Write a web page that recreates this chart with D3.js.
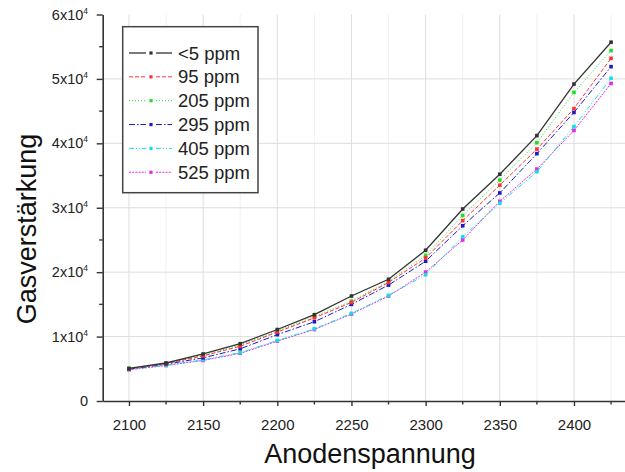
<!DOCTYPE html>
<html>
<head>
<meta charset="utf-8">
<script src="https://cdn.jsdelivr.net/npm/d3@7"></script>
<style>
  body { margin: 0; background: #fff; }
  svg { font-family: "Liberation Sans", Arial, sans-serif; }
</style>
</head>
<body>
<div id="chart"></div>
<script>
// Anodenspannung (V)
const spannung = [2100, 2125, 2150, 2175, 2200, 2225, 2250, 2275, 2300, 2325, 2350, 2375, 2400, 2425];

// Gasverstärkung je Konzentration
const ppm5   = [5050, 5900, 7300, 8900, 11100, 13400, 16300, 18900, 23400, 29800, 35200, 41200, 49200, 55700];
const ppm95  = [5000, 5800, 7000, 8500, 10700, 12900, 15300, 18400, 22200, 28000, 33500, 39100, 45400, 53200];
const ppm205 = [5050, 5850, 7100, 8700, 10900, 13100, 15500, 18600, 22600, 28800, 34300, 40100, 47900, 54400];
const ppm295 = [4950, 5700, 6700, 8100, 10300, 12300, 15000, 18000, 21700, 27200, 32300, 38400, 44800, 51900];
const ppm405 = [4900, 5550, 6400, 7500, 9400, 11200, 13600, 16400, 19600, 25500, 30700, 35600, 42600, 50100];
const ppm525 = [4850, 5500, 6300, 7400, 9300, 11100, 13500, 16300, 20000, 25000, 31000, 36000, 42000, 49300];

const serien = [
    { name: "<5 ppm",   werte: ppm5,   farbe: "#333333", dash: null,            breite: 1.3 },
    { name: "95 ppm",   werte: ppm95,  farbe: "#ff3030", dash: "4,2",           breite: 1 },
    { name: "205 ppm",  werte: ppm205, farbe: "#22dd22", dash: "1,2",           breite: 1 },
    { name: "295 ppm",  werte: ppm295, farbe: "#1a1acc", dash: "6,2,1.5,2",     breite: 1 },
    { name: "405 ppm",  werte: ppm405, farbe: "#11e0e0", dash: "5,2,1,2,1,2",   breite: 1 },
    { name: "525 ppm",  werte: ppm525, farbe: "#ee22ee", dash: "2,1.2",         breite: 1 }
];

const xTicks = [2100, 2150, 2200, 2250, 2300, 2350, 2400];
const xMinor = [2125, 2175, 2225, 2275, 2325, 2375, 2425];
const yTicks = [0, 10000, 20000, 30000, 40000, 50000, 60000];
const yMinor = [5000, 15000, 25000, 35000, 45000, 55000];

const svgWidth = 625, svgHeight = 472;

const svg = d3.select("#chart")
    .append("svg")
    .attr("width", svgWidth)
    .attr("height", svgHeight);

// Skalen
const x = d3.scaleLinear()
    .domain([2082.3, 2434.4])
    .range([102.7, 625]);

const y = d3.scaleLinear()
    .domain([0, 60000])
    .range([401, 14.5]);

// Gitter
svg.append("g").selectAll("line")
    .data(xMinor)
    .enter().append("line")
    .attr("x1", d => x(d)).attr("x2", d => x(d))
    .attr("y1", y(60000)).attr("y2", y(0))
    .attr("stroke", "#f0f0f0").attr("stroke-width", 1);

svg.append("g").selectAll("line")
    .data(xTicks)
    .enter().append("line")
    .attr("x1", d => x(d)).attr("x2", d => x(d))
    .attr("y1", y(60000)).attr("y2", y(0))
    .attr("stroke", "#dedede").attr("stroke-width", 1);

svg.append("g").selectAll("line")
    .data(yTicks.filter(d => d > 0 && d < 60000))
    .enter().append("line")
    .attr("x1", x.range()[0]).attr("x2", svgWidth)
    .attr("y1", d => y(d)).attr("y2", d => y(d))
    .attr("stroke", "#dedede").attr("stroke-width", 1);

// Linien
const linie = d3.line()
    .x((d, i) => x(spannung[i]))
    .y(d => y(d));

serien.slice().reverse().forEach(s => {
    svg.append("path")
        .datum(s.werte)
        .attr("d", linie)
        .attr("fill", "none")
        .attr("stroke", s.farbe)
        .attr("stroke-width", s.breite)
        .attr("stroke-dasharray", s.dash);

    svg.append("g").selectAll("rect")
        .data(s.werte)
        .enter().append("rect")
        .attr("x", (d, i) => x(spannung[i]) - 1.8)
        .attr("y", d => y(d) - 1.8)
        .attr("width", 3.6)
        .attr("height", 3.6)
        .attr("fill", s.farbe);
});

// Achsen
const xAxis = svg.append("g")
    .attr("transform", `translate(0, ${y(0)})`)
    .call(d3.axisBottom(x).tickValues(xTicks).tickFormat(d3.format("d"))
        .tickSize(5).tickSizeOuter(0).tickPadding(13));
xAxis.select(".domain").attr("stroke", "#333").attr("stroke-width", 1.6);
xAxis.selectAll(".tick line").attr("stroke", "#333").attr("stroke-width", 1.4);
xAxis.selectAll("text").attr("font-size", 15).attr("fill", "#222")
    .attr("font-family", "Liberation Sans, Arial, sans-serif");

svg.append("g").selectAll("line")
    .data(xMinor)
    .enter().append("line")
    .attr("x1", d => x(d)).attr("x2", d => x(d))
    .attr("y1", y(0)).attr("y2", y(0) + 3.5)
    .attr("stroke", "#333").attr("stroke-width", 1.4);

const yAxis = svg.append("g")
    .attr("transform", `translate(${x.range()[0]}, 0)`)
    .call(d3.axisLeft(y).tickValues(yTicks).tickSize(6).tickSizeOuter(0).tickFormat(""));
yAxis.select(".domain").attr("stroke", "#333").attr("stroke-width", 1.6);
yAxis.selectAll(".tick line").attr("stroke", "#333").attr("stroke-width", 1.4);

svg.append("g").selectAll("line")
    .data(yMinor)
    .enter().append("line")
    .attr("x1", x.range()[0] - 3.5).attr("x2", x.range()[0])
    .attr("y1", d => y(d)).attr("y2", d => y(d))
    .attr("stroke", "#333").attr("stroke-width", 1.4);

// Y-Beschriftung mit Exponent
const yLabels = svg.append("g").selectAll("text")
    .data(yTicks)
    .enter().append("text")
    .attr("x", 88)
    .attr("y", d => y(d) + 5)
    .attr("text-anchor", "end")
    .attr("font-size", 14.5)
    .attr("fill", "#222");

yLabels.each(function(d) {
    const t = d3.select(this);
    if (d === 0) {
        t.text("0");
    } else {
        t.append("tspan").text(`${d / 10000}x10`);
        t.append("tspan").attr("font-size", 8.5).attr("dy", -6).text("4");
    }
});

// Achsentitel
svg.append("text")
    .attr("x", 370)
    .attr("y", 463)
    .attr("text-anchor", "middle")
    .attr("font-size", 27)
    .attr("fill", "#111")
    .text("Anodenspannung");

svg.append("text")
    .attr("transform", `translate(36, 229) rotate(-90)`)
    .attr("text-anchor", "middle")
    .attr("font-size", 27)
    .attr("fill", "#111")
    .text("Gasverstärkung");

// Legende
const legend = svg.append("g");
legend.append("rect")
    .attr("x", 122.7).attr("y", 26.7)
    .attr("width", 135.3).attr("height", 166)
    .attr("fill", "#fff")
    .attr("stroke", "#444").attr("stroke-width", 1.5);

serien.forEach((s, i) => {
    const cy = 53 + i * 23.85;
    [[129, 146], [156, 172]].forEach(([a, b]) => {
        legend.append("line")
            .attr("x1", a).attr("x2", b)
            .attr("y1", cy).attr("y2", cy)
            .attr("stroke", s.farbe)
            .attr("stroke-width", s.breite)
            .attr("stroke-dasharray", s.dash);
    });
    legend.append("rect")
        .attr("x", 151 - 1.6).attr("y", cy - 1.6)
        .attr("width", 3.2).attr("height", 3.2)
        .attr("fill", s.farbe);
    legend.append("text")
        .attr("x", 178)
        .attr("y", cy + 6.5)
        .attr("font-size", 18.5)
        .attr("fill", "#222")
        .text(s.name);
});
</script>
</body>
</html>
